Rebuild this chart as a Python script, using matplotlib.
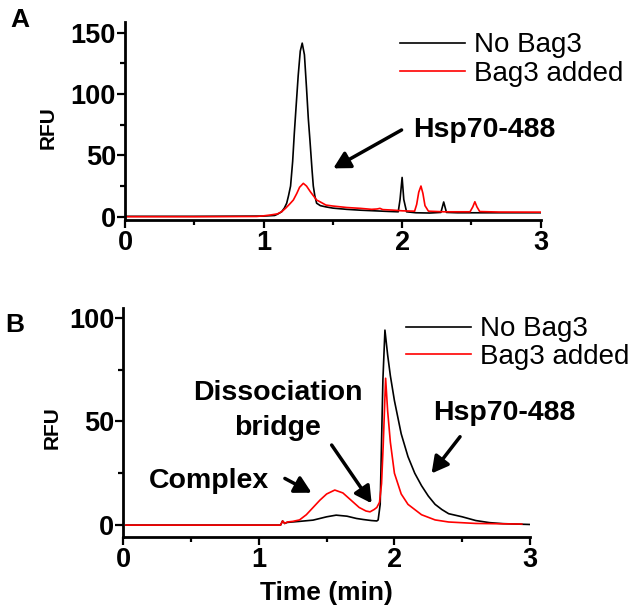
import matplotlib
matplotlib.use('Agg')
import matplotlib.pyplot as plt
from matplotlib.ticker import MultipleLocator

plt.rcParams['font.family'] = ['Liberation Sans', 'DejaVu Sans']

# ---- data ----
# panel A
a_black_t = [0.0, 0.5, 1.0, 1.08, 1.10, 1.13, 1.15, 1.167, 1.18, 1.195, 1.21, 1.222, 1.235, 1.25,
             1.265, 1.279, 1.295, 1.31, 1.323, 1.335, 1.35, 1.359, 1.37, 1.383, 1.41, 1.45, 1.5,
             1.6, 1.7, 1.8, 1.9, 1.972, 1.985, 2.0, 2.012, 2.032, 2.1, 2.2, 2.28, 2.30, 2.32,
             2.4, 2.6, 2.8, 3.0]
a_black_y = [0.3, 0.3, 0.5, 1.0, 2.0, 4.0, 7.0, 11, 17, 25, 45, 68, 90, 115,
             135, 141.5, 132, 105, 80, 62, 38, 25, 17, 11, 9, 8, 7,
             6, 5.3, 4.8, 4.3, 4.0, 14, 32, 14, 4.0, 3.2, 3.0, 3.5, 12, 3.5,
             3.2, 3.2, 3.2, 3.2]
a_red_t = [0.0, 0.5, 0.95, 1.0, 1.05, 1.10, 1.13, 1.16, 1.19, 1.215, 1.24, 1.26, 1.287, 1.31,
           1.34, 1.383, 1.41, 1.45, 1.5, 1.6, 1.7, 1.78, 1.82, 1.84, 1.86, 1.93, 2.0, 2.09,
           2.105, 2.12, 2.136, 2.15, 2.165, 2.19, 2.3, 2.49, 2.51, 2.525, 2.54, 2.56, 2.7, 3.0]
a_red_y = [0.0, 0.0, 0.2, 0.7, 1.4, 2.3, 4.0, 7.0, 10.5, 13.6, 19, 24, 27.2, 25,
           20, 13.6, 12, 9.5, 8.7, 7.5, 6.8, 6.0, 6.3, 6.8, 5.8, 5.4, 4.8, 4.5,
           10, 20, 25, 19, 9, 4.5, 4.0, 4.0, 8, 12.2, 8, 4.2, 3.8, 3.7]

# panel B
b_black_t = [0.02, 0.5, 1.0, 1.16, 1.175, 1.19, 1.21, 1.3, 1.4, 1.5, 1.57, 1.65, 1.72, 1.77,
             1.83, 1.87, 1.88, 1.895, 1.905, 1.915, 1.93, 1.95, 1.97, 2.0, 2.05, 2.1, 2.15,
             2.2, 2.25, 2.3, 2.35, 2.4, 2.5, 2.6, 2.7, 2.8, 3.0]
b_black_y = [0.0, 0.0, 0.0, 0.0, 2.0, 0.8, 1.3, 1.8, 2.4, 4.0, 4.8, 4.3, 3.2, 2.7,
             2.2, 2.0, 2.5, 10, 40, 70, 94, 82, 72, 60, 44, 33, 25,
             19, 14, 10, 7.5, 5.5, 4.0, 2.2, 1.2, 0.7, 0.3]
b_red_t = [0.02, 0.5, 1.0, 1.16, 1.175, 1.19, 1.21, 1.25, 1.30, 1.35, 1.40, 1.45, 1.50, 1.56,
           1.62, 1.68, 1.74, 1.79, 1.82, 1.85, 1.87, 1.89, 1.905, 1.917, 1.935, 1.95, 1.97,
           2.0, 2.05, 2.1, 2.15, 2.2, 2.3, 2.4, 2.6, 2.94]
b_red_y = [0.0, 0.0, 0.0, 0.0, 2.0, 0.8, 1.5, 1.8, 2.5, 5.0, 8.5, 12, 15, 16.9,
           15.5, 12, 8.5, 6.8, 6.4, 7.5, 8.5, 11, 20, 38, 70.8, 55, 40,
           25, 15, 10, 7.5, 5.0, 2.5, 1.5, 0.8, 0.5]

labels = ['No Bag3', 'Bag3 added']

fig = plt.figure(figsize=(6.29, 6.12), dpi=100)
axA = fig.add_axes([0.1987, 0.6405, 0.6609, 0.3235])
axB = fig.add_axes([0.1960, 0.1230, 0.6466, 0.3732])

arrow = dict(arrowstyle='-|>,head_length=0.55,head_width=0.3', lw=2.5, color='k',
             shrinkA=0, shrinkB=0, mutation_scale=18)


def style(ax, ylim, ymajor, yminor):
    ax.set_xlim(0, 3)
    ax.set_ylim(*ylim)
    for s in ['top', 'right']:
        ax.spines[s].set_visible(False)
    for s in ['left', 'bottom']:
        ax.spines[s].set_linewidth(2)
    ax.xaxis.set_major_locator(MultipleLocator(1))
    ax.xaxis.set_minor_locator(MultipleLocator(0.5))
    ax.yaxis.set_major_locator(MultipleLocator(ymajor))
    ax.yaxis.set_minor_locator(MultipleLocator(yminor))
    ax.tick_params(which='major', direction='out', length=6, width=1.6, labelsize=19.5)
    ax.tick_params(which='minor', direction='out', length=3.5, width=1.6)
    ax.tick_params(axis='y', pad=0.5)
    ax.tick_params(axis='x', pad=1.5)
    for lab in ax.get_xticklabels() + ax.get_yticklabels():
        lab.set_fontweight('bold')


# ---- panel A ----
axA.plot(a_black_t, a_black_y, color='black', lw=1.2, label=labels[0])
axA.plot(a_red_t, a_red_y, color='red', lw=1.2, label=labels[1])
style(axA, (-2.7, 158.7), 50, 25)
axA.set_ylabel('RFU', fontsize=15, fontweight='bold')
axA.yaxis.set_label_coords(-0.186, 0.467)
axA.yaxis.label.set_va('center')
axA.legend(frameon=False, loc='center left', bbox_to_anchor=(400 / 629, 1 - 59.7 / 612),
           bbox_transform=fig.transFigure, borderpad=0, borderaxespad=0,
           handlelength=2.34, handletextpad=0.32, labelspacing=0.1, fontsize=20)
axA.text(2.078, 65.0, 'Hsp70-488', fontsize=20.5, fontweight='bold', ha='left', va='baseline')
axA.annotate('', xy=(1.503, 39.4), xytext=(1.996, 70.7), arrowprops=arrow)

# ---- panel B ----
axB.plot(b_black_t, b_black_y, color='black', lw=1.2, label=labels[0])
axB.plot(b_red_t, b_red_y, color='red', lw=1.2, label=labels[1])
style(axB, (-5.6, 104.5), 50, 25)
axB.set_ylabel('RFU', fontsize=15, fontweight='bold')
axB.yaxis.set_label_coords(-0.174, 0.476)
axB.yaxis.label.set_va('center')
axB.set_xlabel('Time (min)', fontsize=19, fontweight='bold')
axB.xaxis.set_label_coords(0.5, -0.277)
axB.xaxis.label.set_va('baseline')
axB.legend(frameon=False, loc='center left', bbox_to_anchor=(406 / 629, 1 - 343 / 612),
           bbox_transform=fig.transFigure, borderpad=0, borderaxespad=0,
           handlelength=2.34, handletextpad=0.32, labelspacing=0.05, fontsize=20)
axB.text(0.632, 17.7, 'Complex', fontsize=20.5, fontweight='bold', ha='center', va='baseline')
axB.annotate('', xy=(1.389, 15.6), xytext=(1.192, 22.5), arrowprops=arrow)
axB.text(1.141, 60.3, 'Dissociation', fontsize=20.5, fontweight='bold', ha='center', va='baseline')
axB.text(1.141, 43.4, 'bridge', fontsize=20.5, fontweight='bold', ha='center', va='baseline')
axB.annotate('', xy=(1.832, 10.5), xytext=(1.537, 38.6), arrowprops=arrow)
axB.text(2.284, 50.7, 'Hsp70-488', fontsize=20.5, fontweight='bold', ha='left', va='baseline')
axB.annotate('', xy=(2.274, 24.9), xytext=(2.484, 42.6), arrowprops=arrow)

fig.text(10 / 629, 1 - 27 / 612, 'A', fontsize=19, fontweight='bold', ha='left', va='baseline')
fig.text(5 / 629, 1 - 332 / 612, 'B', fontsize=19, fontweight='bold', ha='left', va='baseline')

fig.savefig('out.png', dpi=100)
